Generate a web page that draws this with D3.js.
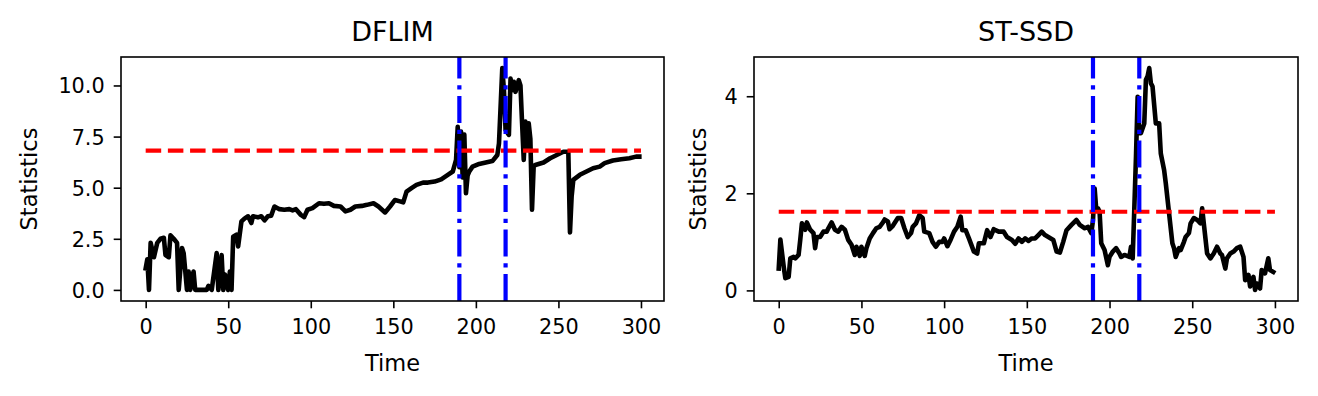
<!DOCTYPE html>
<html>
<head>
<meta charset="utf-8">
<script src="https://cdn.jsdelivr.net/npm/d3@7"></script>
<style>
  html, body { margin: 0; padding: 0; background: #fff; }
  svg text { font-family: "DejaVu Sans", sans-serif; fill: #000; }
</style>
</head>
<body>
<div id="chart"></div>
<script>
// two panels: DFLIM statistic and ST-SSD statistic over time

const dflimTime = [0,1,2,3,5,7,9,11,12,14,15,17,19,20,22,23,25,26,27,29,30,37,38,40,43,44,46,47,48,50,51,52,53,55,56,58,60,62,64,65,68,70,72,74,76,78,81,84,87,89,91,94,96,98,101,105,108,111,114,118,121,124,127,131,134,138,141,145,148,151,154,156,158,161,164,168,171,175,179,183,186,188,189,190,191,192,193,194,195,196,198,202,206,210,213,214,216,217,218,220,221,222,223,224,226,227,228,229,230,231,232,233,234,235,236,241,245,249,253,256,257,258,259,263,267,271,275,278,283,288,293,297,299];
const dflimValues = [1.05,1.5,0.0,2.3,1.6,2.3,2.5,2.55,1.7,1.6,2.67,2.5,2.3,0.0,2.05,1.8,0.0,0.9,0.0,0.9,0.0,0.0,0.2,0.0,1.8,0.0,1.7,0.0,0.75,0.0,0.9,0.0,2.6,2.7,2.13,3.35,3.5,3.6,3.27,3.6,3.55,3.6,3.4,3.6,3.63,4.08,3.95,3.92,3.95,3.89,3.95,3.67,3.56,3.92,4.0,4.24,4.21,4.24,4.11,4.08,3.84,3.92,4.08,4.11,4.16,4.24,4.08,3.79,4.08,4.4,4.33,4.28,4.81,4.98,5.14,5.25,5.25,5.3,5.41,5.63,5.79,6.36,7.98,6.0,7.74,5.5,7.6,4.73,5.6,5.79,6.03,6.16,6.23,6.3,6.6,7.17,10.85,9.77,7.82,7.58,10.34,9.77,10.18,9.69,10.26,10.0,8.15,6.36,8.23,7.0,8.15,7.4,3.92,6.03,6.11,6.23,6.44,6.6,6.76,6.76,2.81,4.57,5.38,5.63,5.79,5.95,6.03,6.2,6.33,6.39,6.44,6.52,6.52];

const stssdTime = [0,1,3,4,6,7,9,10,12,13,14,16,17,19,21,22,23,25,27,29,30,32,34,36,38,40,42,44,46,47,49,50,52,53,55,57,59,61,63,64,66,67,69,72,74,76,78,80,81,83,85,87,88,91,93,95,97,99,100,102,104,106,108,110,111,113,115,118,120,121,124,126,128,130,133,136,138,141,143,145,147,149,151,153,155,157,159,161,163,166,168,170,172,174,177,180,182,185,187,189,190,191,192,193,194,195,197,199,200,202,204,206,207,209,212,213,214,216,217,218,219,221,222,223,224,225,226,228,230,231,233,234,236,238,239,240,242,243,245,246,248,249,251,253,255,256,257,259,261,263,265,267,268,270,271,273,275,277,279,281,282,284,285,287,288,289,291,292,294,296,297,299];
const stssdValues = [0.45,1.05,0.49,0.25,0.28,0.66,0.69,0.66,0.73,1.04,1.38,1.25,1.4,1.25,1.18,0.87,1.1,1.1,1.21,1.21,1.28,1.4,1.25,1.21,1.31,1.25,1.04,0.94,0.73,0.9,0.71,0.9,0.71,0.87,1.07,1.18,1.28,1.31,1.4,1.46,1.42,1.26,1.33,1.49,1.49,1.28,1.1,1.18,1.31,1.38,1.55,1.49,1.21,1.18,1.0,0.9,1.0,1.0,1.07,0.91,1.05,1.21,1.31,1.52,1.24,1.24,1.07,0.8,0.76,0.97,0.97,1.24,1.1,1.26,1.21,1.21,1.1,1.04,0.96,1.07,1.0,1.07,1.02,1.07,1.07,1.14,1.21,1.14,1.1,1.04,0.8,0.78,1.0,1.24,1.35,1.45,1.35,1.28,1.31,1.18,1.45,2.1,1.66,1.69,1.62,0.97,0.83,0.52,0.69,0.8,0.87,0.76,0.69,0.73,0.69,0.9,0.66,2.76,3.99,3.24,3.24,3.44,4.34,4.41,4.58,4.27,4.2,3.44,3.44,2.82,2.48,2.21,1.59,0.97,0.87,0.69,0.87,0.83,1.0,1.1,1.18,1.38,1.49,1.45,1.38,1.69,1.38,0.76,0.66,0.76,0.9,0.76,0.73,0.45,0.66,0.76,0.8,0.87,0.9,0.69,0.21,0.32,0.08,0.28,0.01,0.14,0.04,0.42,0.35,0.66,0.42,0.38];

const panelTitles = ['DFLIM', 'ST-SSD'];
const thresholds = [6.81, 1.62];
const changePoints = [190, 218];
const xTicks = [0, 50, 100, 150, 200, 250, 300];
const yTicksDflim = [0, 2.5, 5, 7.5, 10];
const yTicksStssd = [0, 2, 4];

const W = 1318, H = 396;
const plotTop = 57, plotBottom = 301;
const lw = 4.2;

const svg = d3.select('#chart').append('svg')
    .attr('width', W).attr('height', H);
svg.append('rect').attr('width', W).attr('height', H).attr('fill', '#fff');

const panels = [
    { title: panelTitles[0], t: dflimTime, v: dflimValues, thr: thresholds[0], yTicks: yTicksDflim, fmt: d3.format('.1f'), left: 121, right: 664, ylabelX: 37 },
    { title: panelTitles[1], t: stssdTime, v: stssdValues, thr: thresholds[1], yTicks: yTicksStssd, fmt: d3.format('d'), left: 754, right: 1298, ylabelX: 706 }
];

panels.forEach(p => {
    // matplotlib style 5% margins
    const [t0, t1] = d3.extent(p.t);
    const [v0, v1] = d3.extent(p.v);
    const tm = (t1 - t0) * 0.05, vm = (v1 - v0) * 0.05;
    const x = d3.scaleLinear().domain([t0 - tm, t1 + tm]).range([p.left, p.right]);
    const y = d3.scaleLinear().domain([v0 - vm, v1 + vm]).range([plotBottom, plotTop]);

    const g = svg.append('g');

    const line = d3.line().x(d => x(d[0])).y(d => y(d[1]));
    g.append('path')
        .datum(p.t.map((t, i) => [t, p.v[i]]))
        .attr('d', line)
        .attr('fill', 'none')
        .attr('stroke', '#000')
        .attr('stroke-width', 4.6)
        .attr('stroke-linejoin', 'round')
        .attr('stroke-linecap', 'square');

    // threshold
    g.append('line')
        .attr('x1', x(0)).attr('x2', x(300))
        .attr('y1', y(p.thr)).attr('y2', y(p.thr))
        .attr('stroke', '#ff0000')
        .attr('stroke-width', lw)
        .attr('stroke-dasharray', '15.5,6.7');

    // change points, drawn bottom to top like axvline
    changePoints.forEach(cp => {
        g.append('line')
            .attr('x1', x(cp)).attr('x2', x(cp))
            .attr('y1', plotBottom).attr('y2', plotTop)
            .attr('stroke', '#0000ff')
            .attr('stroke-width', lw)
            .attr('stroke-dasharray', '26.9,6.7,4.2,6.7');
    });

    // frame
    g.append('rect')
        .attr('x', p.left).attr('y', plotTop)
        .attr('width', p.right - p.left).attr('height', plotBottom - plotTop)
        .attr('fill', 'none').attr('stroke', '#000').attr('stroke-width', 1.6);

    const xAxis = g.append('g').attr('transform', `translate(0,${plotBottom})`)
        .call(d3.axisBottom(x).tickValues(xTicks).tickSize(7.3).tickPadding(7).tickFormat(d3.format('d')));
    const yAxis = g.append('g').attr('transform', `translate(${p.left},0)`)
        .call(d3.axisLeft(y).tickValues(p.yTicks).tickSize(7.3).tickPadding(9).tickFormat(p.fmt));

    [xAxis, yAxis].forEach(a => {
        a.select('.domain').remove();
        a.selectAll('.tick line').attr('stroke', '#000').attr('stroke-width', 1.6);
        a.selectAll('.tick text').attr('font-size', '20.8px').attr('font-family', '"DejaVu Sans", sans-serif');
    });
    xAxis.selectAll('.tick text').attr('dy', null).attr('y', 33);
    yAxis.selectAll('.tick text').attr('dy', '0.36em');

    const cx = (p.left + p.right) / 2;
    g.append('text')
        .attr('x', cx).attr('y', 41)
        .attr('text-anchor', 'middle')
        .attr('font-size', '27px')
        .text(p.title);

    g.append('text')
        .attr('x', cx).attr('y', 371)
        .attr('text-anchor', 'middle')
        .attr('font-size', '22.5px')
        .text('Time');

    g.append('text')
        .attr('transform', `translate(${p.ylabelX},${(plotTop + plotBottom) / 2}) rotate(-90)`)
        .attr('text-anchor', 'middle')
        .attr('font-size', '22.5px')
        .text('Statistics');
});
</script>
</body>
</html>
